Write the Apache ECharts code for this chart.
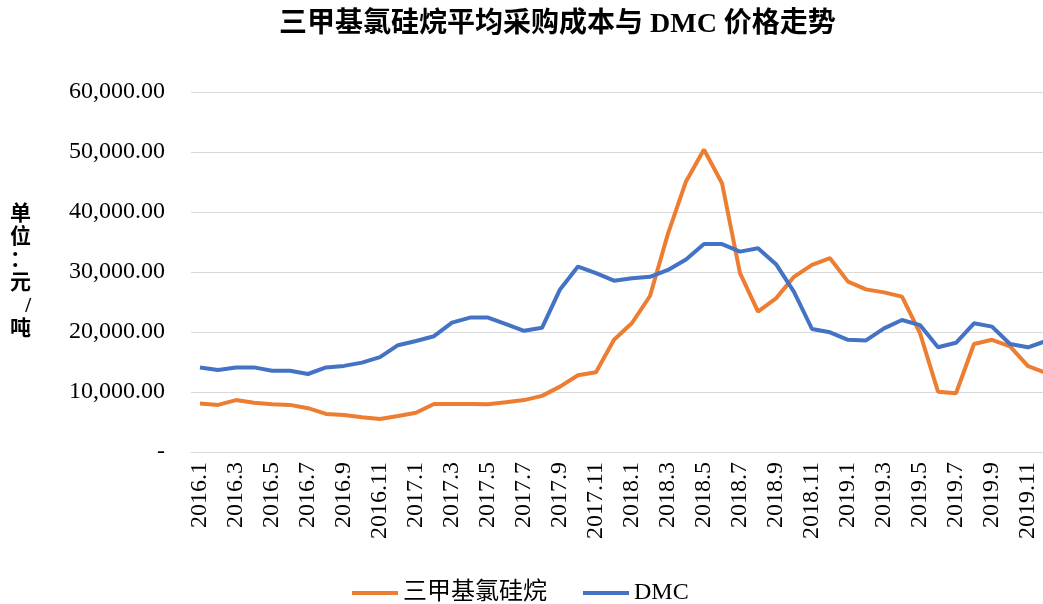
<!DOCTYPE html>
<html>
<head>
<meta charset="utf-8">
<title>三甲基氯硅烷平均采购成本与 DMC 价格走势</title>
<script src="https://cdn.jsdelivr.net/npm/echarts@6/dist/echarts.min.js"></script>
<style>
  html, body { margin: 0; padding: 0; background: #fff; overflow: hidden; }
  /* 原图右侧被裁切，画布比窗口略宽 */
  #chart { width: 1060px; height: 604px; }
</style>
</head>
<body>
<div id="chart"></div>
<script>
// 月份 2016.1 - 2019.12
var months = [
  '2016.1','2016.2','2016.3','2016.4','2016.5','2016.6','2016.7','2016.8','2016.9','2016.10','2016.11','2016.12',
  '2017.1','2017.2','2017.3','2017.4','2017.5','2017.6','2017.7','2017.8','2017.9','2017.10','2017.11','2017.12',
  '2018.1','2018.2','2018.3','2018.4','2018.5','2018.6','2018.7','2018.8','2018.9','2018.10','2018.11','2018.12',
  '2019.1','2019.2','2019.3','2019.4','2019.5','2019.6','2019.7','2019.8','2019.9','2019.10','2019.11','2019.12'
];

// 三甲基氯硅烷平均采购成本（元/吨）
var tmcsCost = [
  8100, 7850, 8650, 8200, 7950, 7850, 7300, 6350, 6150, 5800, 5500, 6000,
  6550, 8000, 8000, 8000, 7950, 8300, 8650, 9350, 10900, 12800, 13300, 18700,
  21500, 26000, 36400, 45100, 50400, 44800, 29800, 23400, 25600, 29200, 31200, 32300,
  28400, 27100, 26600, 25900, 19800, 10050, 9800, 18000, 18700, 17600, 14300, 13200
];

// DMC 价格（元/吨）
var dmcPrice = [
  14100, 13650, 14100, 14100, 13550, 13550, 13000, 14100, 14350, 14900, 15800, 17800,
  18500, 19300, 21550, 22400, 22400, 21300, 20200, 20700, 27100, 30900, 29800, 28550,
  28950, 29200, 30350, 32100, 34650, 34650, 33400, 33950, 31300, 26700, 20500, 19950,
  18700, 18600, 20600, 22000, 21150, 17450, 18200, 21450, 20900, 18000, 17450, 18500
];

var serif = "'Liberation Serif', 'Noto Sans CJK SC', serif";

function fmtValue(v) {
  if (v === 0) return '-';
  return v.toFixed(2).replace(/\B(?=(\d{3})+(?!\d))/g, ',');
}

var chart = echarts.init(document.getElementById('chart'));
chart.setOption({
  backgroundColor: '#fff',
  animation: false,
  title: {
    text: '三甲基氯硅烷平均采购成本与 DMC 价格走势',
    left: 274,
    top: 6,
    textStyle: { fontFamily: serif, fontSize: 28, fontWeight: 'bold', color: '#000' }
  },
  legend: {
    top: 581,
    left: 352,
    padding: 0,
    icon: 'rect',
    itemWidth: 46,
    itemHeight: 4,
    itemGap: 36,
    textStyle: { fontFamily: serif, fontSize: 24, color: '#000' },
    data: ['三甲基氯硅烷', 'DMC']
  },
  grid: { left: 191, top: 92, width: 864, height: 360 },
  xAxis: {
    type: 'category',
    data: months,
    boundaryGap: true,
    axisLine: { lineStyle: { color: '#d9d9d9' } },
    axisTick: { show: false },
    axisLabel: {
      interval: 1,
      rotate: 90,
      margin: 10,
      fontFamily: serif,
      fontSize: 24,
      color: '#000'
    }
  },
  yAxis: {
    type: 'value',
    min: 0,
    max: 60000,
    interval: 10000,
    name: '单\n位\n：\n元\n/\n吨',
    nameLocation: 'middle',
    nameRotate: 0,
    nameGap: 160,
    nameTextStyle: { fontFamily: serif, fontSize: 21, fontWeight: 'bold', color: '#000', lineHeight: 23 },
    axisLine: { show: false },
    axisTick: { show: false },
    splitLine: { lineStyle: { color: '#d9d9d9', width: 1 } },
    axisLabel: {
      margin: 26,
      fontFamily: serif,
      fontSize: 24,
      color: '#000',
      formatter: fmtValue
    }
  },
  series: [
    {
      name: '三甲基氯硅烷',
      type: 'line',
      data: tmcsCost,
      symbol: 'none',
      lineStyle: { width: 4, color: '#ED7D31' },
      itemStyle: { color: '#ED7D31' }
    },
    {
      name: 'DMC',
      type: 'line',
      data: dmcPrice,
      symbol: 'none',
      lineStyle: { width: 4, color: '#4472C4' },
      itemStyle: { color: '#4472C4' }
    }
  ]
});
</script>
</body>
</html>
